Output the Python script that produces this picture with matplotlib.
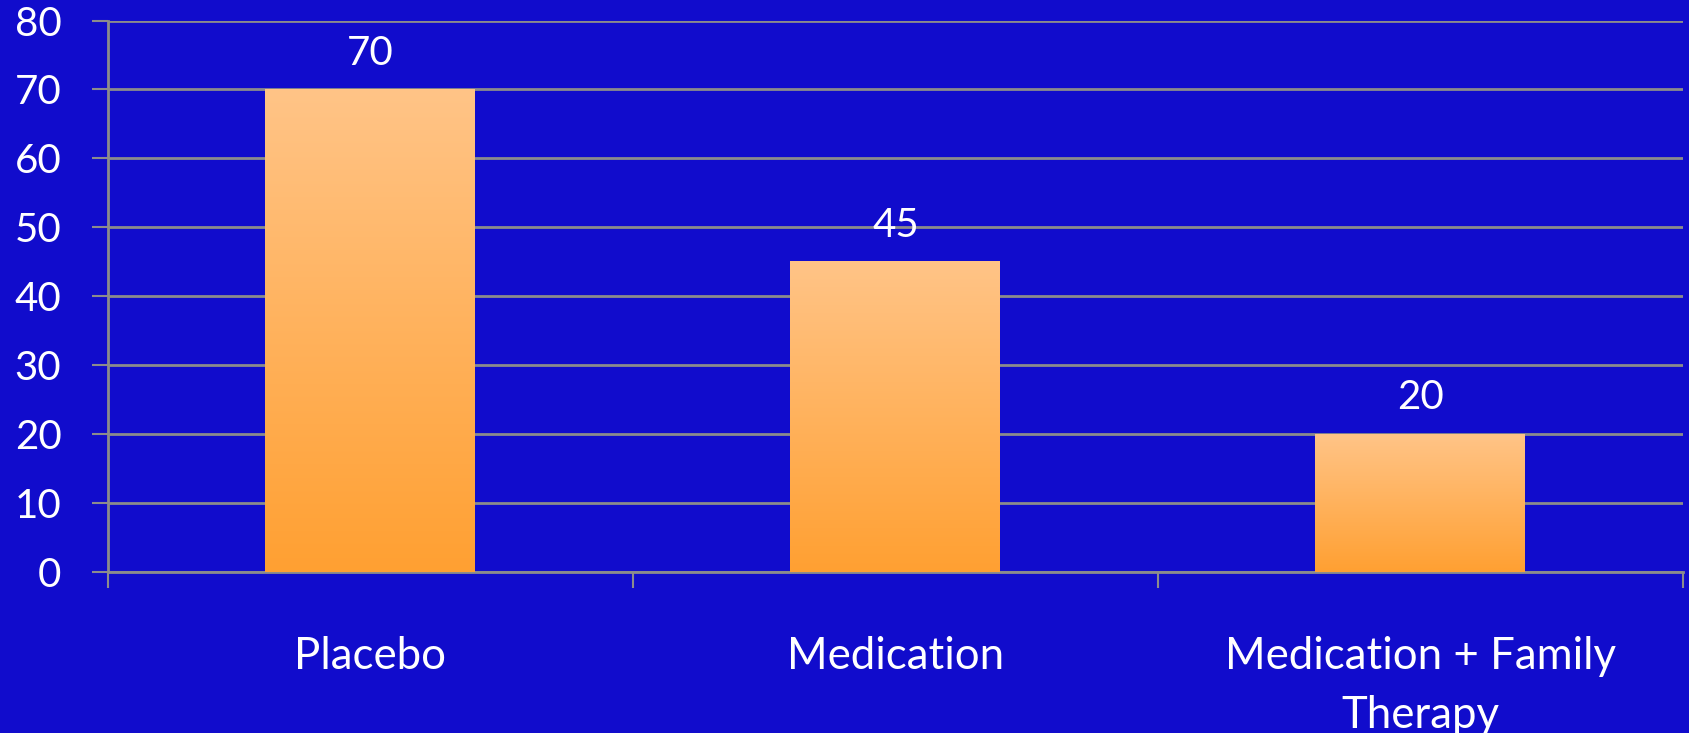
import numpy as np
import matplotlib
matplotlib.use("Agg")
import matplotlib.pyplot as plt
from matplotlib.colors import LinearSegmentedColormap

categories = ['Placebo', 'Medication', 'Medication + Family\nTherapy']
values = [70, 45, 20]
y_ticks = [0, 10, 20, 30, 40, 50, 60, 70, 80]

bg = '#110ccc'
grid_col = '#8c8c8c'
bar_cmap = LinearSegmentedColormap.from_list('bar', ['#ffa032', '#ffc487'])

plt.rcParams['font.family'] = ['Lato', 'DejaVu Sans']

fig = plt.figure(figsize=(16.89, 7.33), dpi=100, facecolor=bg)
ax = fig.add_axes([0.0639, 0.2196, 0.9325, 0.7524])
ax.set_facecolor(bg)

x = np.arange(len(categories))
bars = ax.bar(x, values, width=0.4, color='none', edgecolor='none', zorder=3)

# gradient fill for each bar, light on top
grad = np.linspace(0, 1, 256).reshape(-1, 1)
for b in bars:
    x0, w, h = b.get_x(), b.get_width(), b.get_height()
    ax.imshow(grad, cmap=bar_cmap, origin='lower', aspect='auto',
              extent=[x0, x0 + w, 0, h], zorder=3, interpolation='bicubic')
    ax.text(x0 + w / 2, h + 2.6, f'{h:g}', ha='center', va='bottom',
            color='white', fontsize=29)

ax.set_xlim(-0.5, len(categories) - 0.5)
ax.set_ylim(0, 80)
ax.set_yticks(y_ticks)
ax.yaxis.grid(True, color=grid_col, linewidth=2, zorder=1)
ax.set_axisbelow(True)

ax.set_xticks(x)
ax.set_xticklabels(categories, linespacing=1.55)
ax.set_xticks(np.arange(len(categories) + 1) - 0.5, minor=True)
ax.tick_params(axis='x', which='major', length=0, pad=46, labelsize=31.5,
               labelcolor='white')
ax.tick_params(axis='x', which='minor', length=11.5, width=1.5, color=grid_col)
ax.tick_params(axis='y', length=11.5, width=1.5, color=grid_col, pad=22,
               labelsize=29, labelcolor='white')

for s in ['top', 'right']:
    ax.spines[s].set_visible(False)
for s in ['left', 'bottom']:
    ax.spines[s].set_color(grid_col)
    ax.spines[s].set_linewidth(2)

fig.savefig('out.png', dpi=100, facecolor=bg)
